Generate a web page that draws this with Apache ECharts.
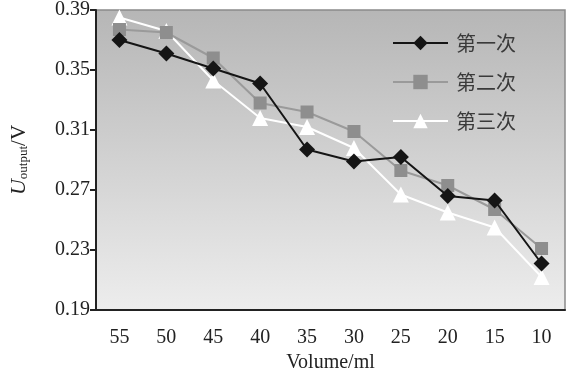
<!DOCTYPE html>
<html><head><meta charset="utf-8">
<script src="https://cdn.jsdelivr.net/npm/echarts@6/dist/echarts.min.js"></script>
<style>html,body{margin:0;padding:0;background:#fff}#c{width:575px;height:378px}</style>
</head><body><div id="c"></div>
<script>
const categories = ['55','50','45','40','35','30','25','20','15','10'];
const run1 = [0.370, 0.361, 0.351, 0.341, 0.297, 0.289, 0.292, 0.266, 0.263, 0.221];
const run2 = [0.377, 0.375, 0.358, 0.328, 0.322, 0.309, 0.283, 0.273, 0.257, 0.231];
const run3 = [0.385, 0.376, 0.343, 0.318, 0.312, 0.298, 0.267, 0.255, 0.245, 0.212];
const seriesNames = ['第一次','第二次','第三次'];
const yTicks = [0.19, 0.23, 0.27, 0.31, 0.35, 0.39];

const font = '"Liberation Serif","DejaVu Serif",serif';
const cjk = '"Noto Sans CJK SC","Liberation Serif",serif';
const chart = echarts.init(document.getElementById('c'));
chart.setOption({
  animation:false,
  backgroundColor:'#fff',
  grid:{left:93,right:10,top:10,bottom:68,show:true,borderColor:'#8a8a8a',borderWidth:1.5,
    backgroundColor:{type:'linear',x:0,y:0,x2:0,y2:1,colorStops:[{offset:0,color:'#b6b6b6'},{offset:1,color:'#ededed'}]}},
  legend:{orient:'vertical',left:392,top:33,padding:0,itemWidth:55,itemHeight:18,itemGap:19,
    data:seriesNames,textStyle:{fontFamily:cjk,fontSize:20,color:'#3a3a3a',padding:[0,0,0,3]}},
  xAxis:{type:'category',data:categories,boundaryGap:true,
    name:'Volume/ml',nameLocation:'middle',nameGap:43,
    nameTextStyle:{fontFamily:font,fontSize:20,color:'#222'},
    axisLine:{lineStyle:{color:'#222',width:2}},
    axisTick:{inside:true,length:7,lineStyle:{color:'#222',width:2},interval:0},
    axisLabel:{fontFamily:font,fontSize:20,color:'#222',margin:18,interval:0}},
  yAxis:{type:'value',min:0.19,max:0.39,interval:0.04,
    name:'{u|U}{s|output}{n|/V}',nameLocation:'middle',nameGap:66,nameRotate:90,
    nameTextStyle:{rich:{u:{fontFamily:font,fontSize:22,fontStyle:'italic',color:'#222'},
      s:{fontFamily:font,fontSize:13,color:'#222',verticalAlign:'bottom',padding:[8,0,0,0]},
      n:{fontFamily:font,fontSize:21,color:'#222'}}},
    axisLine:{show:true,lineStyle:{color:'#222',width:2}},
    axisTick:{show:true,length:6,lineStyle:{color:'#222',width:2}},
    splitLine:{show:false},
    axisLabel:{fontFamily:font,fontSize:20,color:'#222',margin:6,formatter:v=>v.toFixed(2)}},
  series:[
    {name:seriesNames[0],type:'line',data:run1,symbol:'diamond',symbolSize:16,
      lineStyle:{color:'#151515',width:2},itemStyle:{color:'#151515'},z:4},
    {name:seriesNames[1],type:'line',data:run2,symbol:'rect',symbolSize:13,
      lineStyle:{color:'#9a9a9a',width:2},itemStyle:{color:'#8e8e8e'},z:3},
    {name:seriesNames[2],type:'line',data:run3,symbol:'triangle',symbolSize:16,
      lineStyle:{color:'#ffffff',width:2},itemStyle:{color:'#ffffff'},z:2}
  ]
});
</script></body></html>
